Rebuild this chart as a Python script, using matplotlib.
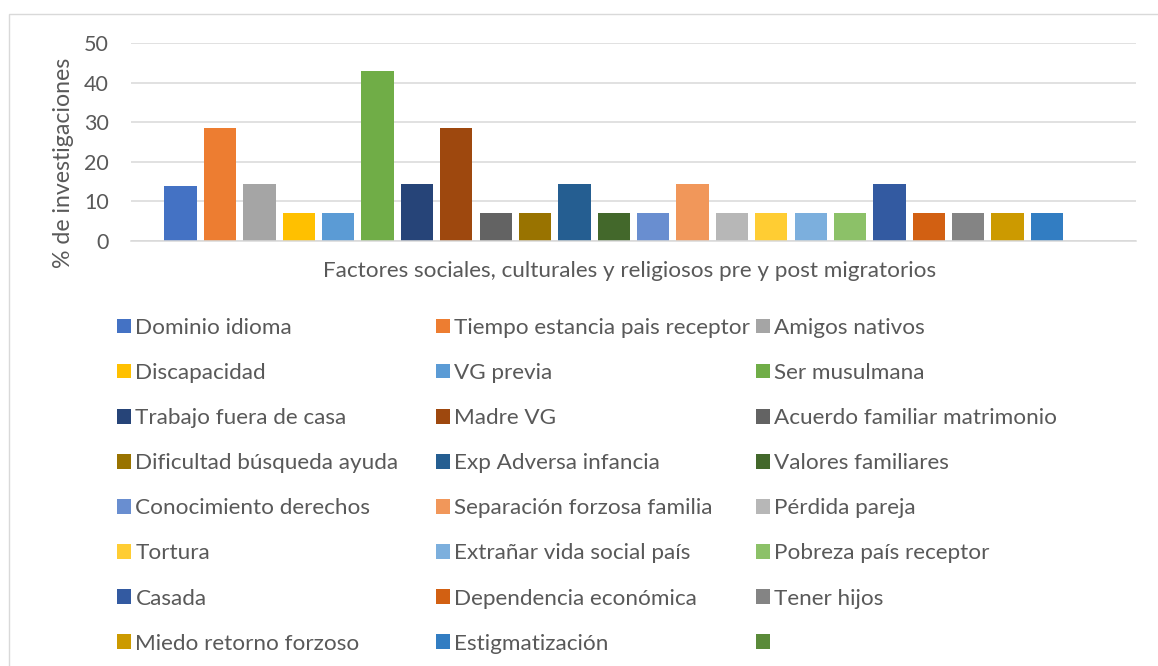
import matplotlib
matplotlib.use('Agg')
import matplotlib.pyplot as plt
from matplotlib.patches import Rectangle, Patch
import numpy as np

# factores (series) y % de investigaciones
factores = ['Dominio idioma', 'Tiempo estancia pais receptor', 'Amigos nativos',
            'Discapacidad', 'VG previa', 'Ser musulmana',
            'Trabajo fuera de casa', 'Madre VG', 'Acuerdo familiar matrimonio',
            'Dificultad búsqueda ayuda', 'Exp Adversa infancia', 'Valores familiares',
            'Conocimiento derechos', 'Separación forzosa familia', 'Pérdida pareja',
            'Tortura', 'Extrañar vida social país', 'Pobreza país receptor',
            'Casada', 'Dependencia económica', 'Tener hijos',
            'Miedo retorno forzoso', 'Estigmatización', '']
valores = [14.0, 28.6, 14.3, 7.1, 7.1, 42.9, 14.3, 28.6, 7.1, 7.1, 14.3, 7.1,
           7.1, 14.3, 7.1, 7.1, 7.1, 7.1, 14.3, 7.1, 7.1, 7.1, 7.1, 0]
colores = ['#4472C4', '#ED7D31', '#A5A5A5', '#FFC000', '#5B9BD5', '#70AD47',
           '#264478', '#9E480E', '#636363', '#997300', '#255E91', '#43682B',
           '#698ED0', '#F1975A', '#B7B7B7', '#FFCD33', '#7CAFDD', '#8CC168',
           '#335AA1', '#D26012', '#848484', '#CC9A00', '#327DC2', '#5A8A39']
yticks = [0, 10, 20, 30, 40, 50]

plt.rcParams['font.family'] = ['Lato', 'DejaVu Sans']
gris = '#595959'
W, H = 1158, 666

fig = plt.figure(figsize=(W / 100, H / 100), dpi=100)
ax = fig.add_axes([131 / W, 1 - 241 / H, (1136 - 131) / W, 198 / H])

x = np.arange(len(valores))
ax.bar(x, valores, width=0.82, color=colores, zorder=2)

ax.set_ylim(0, 50)
ax.set_xlim(-1.26, 24.26)
ax.set_yticks(yticks)
ax.set_xticks([])
ax.yaxis.grid(True, color='#D9D9D9', lw=1.1, zorder=0)
for s in ['top', 'right', 'left']:
    ax.spines[s].set_visible(False)
ax.spines['bottom'].set_color('#D9D9D9')
ax.spines['bottom'].set_linewidth(1.1)
ax.tick_params(axis='y', length=0, pad=16, labelsize=15.5, labelcolor=gris)

fig.text(63 / W, 1 - 163 / H, '% de investigaciones', rotation=90,
         ha='center', va='center', fontsize=16.7, color=gris)
fig.text(630 / W, 1 - 271 / H,
         'Factores sociales, culturales y religiosos pre y post migratorios',
         ha='center', va='center', fontsize=16.2, color=gris)

# leyenda en 3 columnas, orden por filas como en Excel
parches = [Patch(facecolor=c, edgecolor='none') for c in colores]
col_x = [117, 436, 756]
for c in range(3):
    hs = [parches[r * 3 + c] for r in range(8)]
    ls = [factores[r * 3 + c] for r in range(8)]
    leg = fig.legend(hs, ls, loc='upper left',
                     bbox_to_anchor=(col_x[c] / W, 1 - 318 / H),
                     frameon=False, fontsize=16.2, labelcolor=gris,
                     handlelength=0.62, handleheight=0.62,
                     handletextpad=0.2, labelspacing=1.115,
                     borderpad=0, borderaxespad=0)

fig.patches.append(Rectangle((9 / W, -0.1), 1.2, 1.1 - 14 / H,
                             transform=fig.transFigure, fill=False,
                             edgecolor='#D9D9D9', lw=1))

fig.savefig('out.png', dpi=100)
